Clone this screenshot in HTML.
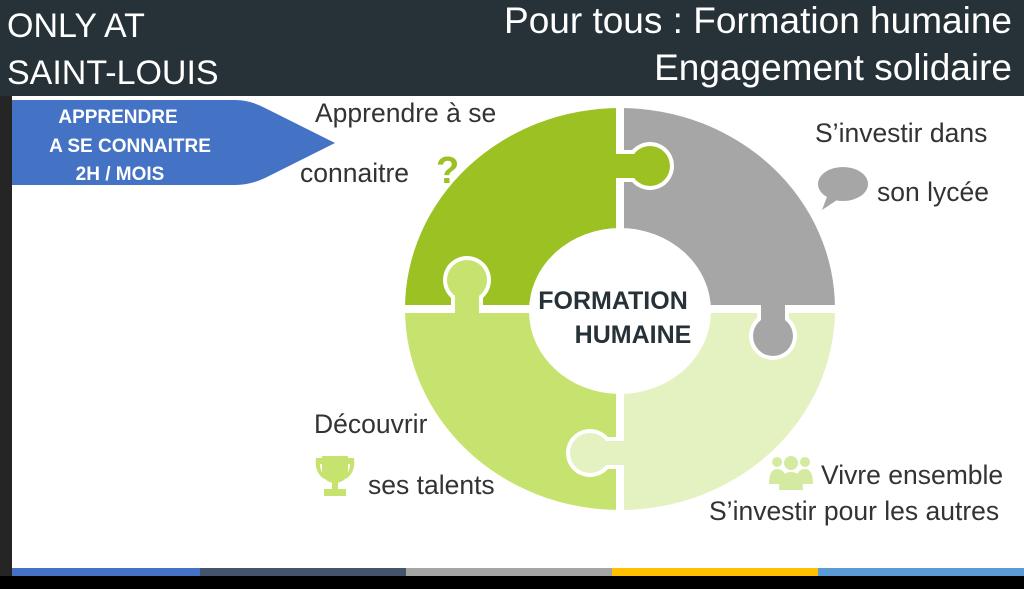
<!DOCTYPE html>
<html><head><meta charset="utf-8"><style>
body{margin:0;width:1024px;height:589px;overflow:hidden;background:#000}
svg{display:block}
</style></head><body>
<svg width="1024" height="589" viewBox="0 0 1024 589" xmlns="http://www.w3.org/2000/svg">
<rect x="0" y="0" width="1024" height="589" fill="#000"/>
<rect x="0" y="0" width="1024" height="96" fill="#263238"/>
<rect x="0" y="96" width="12" height="480" fill="#252525"/>
<rect x="12" y="96" width="1012" height="472" fill="#fff"/>
<rect x="12" y="568" width="188" height="8" fill="#4472c4"/>
<rect x="200" y="568" width="206" height="8" fill="#44546a"/>
<rect x="406" y="568" width="206" height="8" fill="#a5a5a5"/>
<rect x="612" y="568" width="206" height="8" fill="#ffc000"/>
<rect x="818" y="568" width="206" height="8" fill="#5b9bd5"/>
<g font-family="Liberation Sans, sans-serif" fill="#fff">
<text x="7" y="37" font-size="34">ONLY AT</text>
<text x="7" y="84" font-size="34">SAINT-LOUIS</text>
<text x="1012" y="33" text-anchor="end" font-size="37">Pour tous : Formation humaine</text>
<text x="1012" y="80" text-anchor="end" font-size="37">Engagement solidaire</text>
</g>
<path d="M12 100 L235 100 Q250 100 265 108 L335 143 L265 178 Q250 185 235 185 L12 185 Z" fill="#4472c4"/>
<g font-family="Liberation Sans, sans-serif" font-weight="bold" fill="#fff" font-size="19" text-anchor="middle">
<text x="118" y="123">APPRENDRE</text>
<text x="130" y="152">A SE CONNAITRE</text>
<text x="120" y="180">2H / MOIS</text>
</g>
<defs>
<clipPath id="c"><ellipse cx="620" cy="309" rx="215" ry="201"/></clipPath>
</defs>
<g clip-path="url(#c)">
<rect x="400" y="100" width="220" height="209" fill="#9bc123"/>
<rect x="620" y="100" width="220" height="209" fill="#a6a6a6"/>
<rect x="400" y="309" width="220" height="210" fill="#c7e36f"/>
<rect x="620" y="309" width="220" height="210" fill="#e3f2c0"/>
</g>
<line x1="620" y1="100" x2="620" y2="520" stroke="#fff" stroke-width="8"/>
<line x1="400" y1="309" x2="840" y2="309" stroke="#fff" stroke-width="8"/>
<g fill="#fff">
<circle cx="650" cy="166" r="24"/><rect x="616" y="150" width="34" height="32"/>
<circle cx="467" cy="280" r="24"/><rect x="451" y="280" width="32" height="33"/>
<circle cx="773" cy="336" r="24"/><rect x="757" y="305" width="32" height="31"/>
<circle cx="590" cy="453" r="24"/><rect x="590" y="437" width="34" height="32"/>
</g>
<circle cx="650" cy="166" r="20" fill="#9bc123"/><rect x="612" y="154" width="38" height="24" fill="#9bc123"/>
<circle cx="467" cy="280" r="20" fill="#c7e36f"/><rect x="455" y="280" width="24" height="35" fill="#c7e36f"/>
<circle cx="773" cy="336" r="20" fill="#a6a6a6"/><rect x="761" y="300" width="24" height="36" fill="#a6a6a6"/>
<circle cx="590" cy="453" r="20" fill="#e3f2c0"/><rect x="590" y="441" width="38" height="24" fill="#e3f2c0"/>
<ellipse cx="620" cy="311" rx="91" ry="83" fill="#fff"/>
<g font-family="Liberation Sans, sans-serif" font-weight="bold" fill="#263238" font-size="25" text-anchor="middle">
<text x="613" y="309">FORMATION</text>
<text x="633" y="343">HUMAINE</text>
</g>
<g font-family="Liberation Sans, sans-serif" fill="#333" font-size="26.5">
<text x="315" y="122">Apprendre à se</text>
<text x="300" y="182">connaitre</text>
<text x="815" y="142">S’investir dans</text>
<text x="877" y="201">son lycée</text>
<text x="314" y="433">Découvrir</text>
<text x="368" y="494">ses talents</text>
<text x="821" y="484">Vivre ensemble</text>
<text x="709" y="520">S’investir pour les autres</text>
</g>
<text x="436" y="183" font-family="Liberation Sans, sans-serif" font-weight="bold" font-size="38" fill="#9bc123">?</text>
<ellipse cx="843" cy="184" rx="25" ry="17" fill="#a6a6a6"/>
<path d="M828 194 L822 210 L840 198 Z" fill="#a6a6a6"/>
<g fill="#c7e36f">
<path d="M322 456 H348 V470 Q348 482 335 483 Q322 482 322 470 Z"/>
<path d="M316 458 H322 V464 H320 Q320 472 326 476 L324 479 Q314 472 316 458 Z"/>
<path d="M354 458 H348 V464 H350 Q350 472 344 476 L346 479 Q356 472 354 458 Z"/>
<rect x="332" y="482" width="6" height="8"/>
<rect x="324" y="489" width="22" height="7"/>
</g>
<g fill="#d4eaa0">
<circle cx="791" cy="463" r="7"/>
<path d="M779 490 Q779 472 791 472 Q803 472 803 490 Z"/>
<circle cx="777" cy="462" r="5"/>
<path d="M769 484 Q769 469 777 469 Q783 469 785 475 L780 484 Z"/>
<circle cx="805" cy="462" r="5"/>
<path d="M813 484 Q813 469 805 469 Q799 469 797 475 L802 484 Z"/>
</g>
</svg>
</body></html>
